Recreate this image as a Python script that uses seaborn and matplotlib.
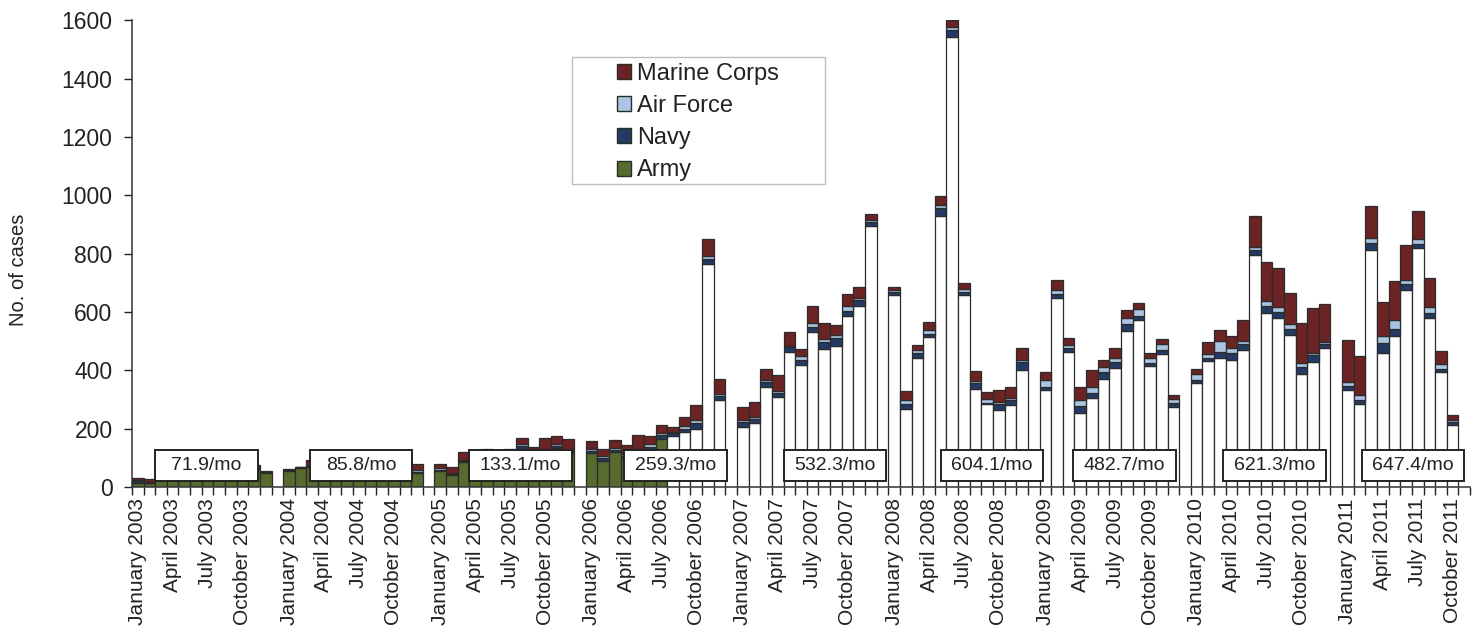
import matplotlib
matplotlib.use("Agg")
import matplotlib.pyplot as plt
from matplotlib.patches import Patch, Rectangle
import numpy as np
import seaborn as sns

sns.set_theme(style="ticks")
plt.rcParams["font.family"] = ["Liberation Sans", "DejaVu Sans"]

# ---------------------------------------------------------------------------
# Data: monthly cases by service, Jan 2003 - Oct 2011
# ---------------------------------------------------------------------------
years = [2003, 2004, 2005, 2006, 2007, 2008, 2009, 2010, 2011]
months_in_year = [12, 12, 12, 12, 12, 12, 12, 12, 10]
month_names = ["January", "February", "March", "April", "May", "June", "July",
               "August", "September", "October", "November", "December"]

army = [
    13, 13, 50, 74, 84, 80, 75, 80, 75, 77, 63, 48,            # 2003
    55, 66, 70, 68, 73, 78, 76, 73, 78, 73, 90, 47,            # 2004
    55, 40, 85, 97, 100, 95, 98, 130, 100, 115, 134, 115,      # 2005
    116, 90, 120, 98, 112, 129, 163, 175, 190, 198, 766, 297,  # 2006
    207, 218, 344, 307, 463, 417, 530, 474, 485, 587, 620, 894,    # 2007
    657, 268, 441, 515, 929, 1543, 657, 335, 284, 265, 282, 402,   # 2008
    334, 648, 463, 254, 305, 371, 407, 534, 571, 415, 455, 276,    # 2009
    355, 432, 441, 437, 471, 796, 596, 581, 521, 387, 428, 475,    # 2010
    332, 284, 812, 461, 517, 675, 818, 580, 393, 213,              # 2011
]
navy = [
    6, 2, 4, 4, 4, 4, 4, 4, 4, 4, 5, 2,
    2, 1, 4, 4, 4, 4, 4, 4, 4, 4, 8, 6,
    5, 4, 5, 6, 6, 5, 5, 10, 6, 7, 7, 5,
    9, 8, 8, 8, 9, 9, 14, 9, 10, 22, 17, 14,
    15, 14, 15, 17, 16, 18, 18, 24, 26, 18, 20, 14,
    12, 18, 19, 11, 27, 24, 12, 21, 5, 21, 16, 25,
    9, 15, 13, 23, 18, 22, 20, 26, 16, 11, 16, 12,
    11, 9, 21, 22, 18, 16, 24, 18, 21, 24, 26, 14,
    15, 14, 24, 32, 26, 22, 14, 15, 12, 10,
]
air_force = [
    6, 3, 3, 3, 3, 3, 3, 3, 3, 3, 4, 3,
    3, 2, 3, 3, 3, 3, 3, 3, 3, 3, 5, 5,
    5, 3, 3, 4, 4, 4, 4, 6, 4, 5, 7, 3,
    7, 7, 7, 7, 8, 8, 8, 6, 8, 11, 10, 7,
    8, 7, 8, 6, 4, 14, 13, 8, 11, 15, 7, 8,
    8, 14, 11, 11, 11, 10, 9, 7, 14, 7, 6, 10,
    23, 14, 10, 21, 19, 19, 17, 21, 22, 15, 18, 13,
    23, 16, 39, 16, 11, 11, 17, 18, 17, 15, 7, 9,
    12, 17, 18, 24, 31, 14, 19, 22, 16, 8,
]
marine_corps = [
    5, 8, 3, 4, 4, 3, 3, 3, 3, 3, 3, 3,
    2, 1, 15, 5, 5, 5, 5, 5, 5, 5, 22, 20,
    15, 20, 28, 20, 22, 21, 23, 23, 28, 40, 27, 41,
    25, 24, 26, 31, 49, 28, 26, 17, 31, 50, 57, 51,
    44, 51, 37, 55, 48, 23, 59, 55, 35, 40, 38, 20,
    9, 29, 15, 28, 32, 23, 21, 35, 23, 40, 40, 38,
    29, 34, 25, 46, 60, 23, 31, 27, 23, 17, 18, 14,
    15, 40, 37, 42, 74, 106, 135, 135, 105, 135, 154, 128,
    145, 135, 111, 118, 131, 120, 94, 100, 46, 15,
]
rate_labels = ["71.9/mo", "85.8/mo", "133.1/mo", "259.3/mo", "532.3/mo",
               "604.1/mo", "482.7/mo", "621.3/mo", "647.4/mo"]

# ---------------------------------------------------------------------------
# Style
# ---------------------------------------------------------------------------
C_MC = "#6b2324"
C_AF = "#a9c5e2"
C_NAVY = "#243a64"
C_ARMY = "#586b2f"
EDGE = "#2b2b2b"
SLOTS_PER_YEAR = 13            # 12 months + one empty slot between years
GREEN_UNTIL = (2006, 7)        # army drawn filled up to July 2006
BOX_OFFSET = [5.9, 6.2, 6.9, 7.2, 7.9, 8.4, 6.8, 6.7, 5.6]
BOX_W, BOX_Y0, BOX_H = 8.8, 22, 104

pos, army_fc, tick_pos, tick_lab = [], [], [], []
for i, (yr, n) in enumerate(zip(years, months_in_year)):
    for m in range(n):
        x = i * SLOTS_PER_YEAR + m
        pos.append(x)
        army_fc.append(C_ARMY if (yr, m + 1) <= GREEN_UNTIL else "white")
        if m % 3 == 0:
            tick_pos.append(x)
            tick_lab.append(f"{month_names[m]} {yr}")

pos = np.array(pos)
army = np.array(army)
navy = np.array(navy)
air_force = np.array(air_force)
marine_corps = np.array(marine_corps)

fig = plt.figure(figsize=(14.76, 6.33), dpi=100)
ax = fig.add_axes([0.0894, 0.2306, 0.9066, 0.7374])

kw = dict(width=1.0, edgecolor=EDGE, linewidth=0.9, zorder=2)
ax.bar(pos, army, color=army_fc, **kw)
ax.bar(pos, navy, bottom=army, color=C_NAVY, **kw)
ax.bar(pos, air_force, bottom=army + navy, color=C_AF, **kw)
ax.bar(pos, marine_corps, bottom=army + navy + air_force, color=C_MC, **kw)

# yearly average boxes
for i, lab in enumerate(rate_labels):
    cx = i * SLOTS_PER_YEAR + BOX_OFFSET[i]
    ax.add_patch(Rectangle((cx - BOX_W / 2, BOX_Y0), BOX_W, BOX_H,
                           facecolor="white", edgecolor="#222222",
                           linewidth=1.4, zorder=4))
    ax.text(cx, BOX_Y0 + BOX_H / 2, lab, ha="center", va="center",
            fontsize=14, color="#222222", zorder=5)

ax.set_xlim(-0.5, len(years) * SLOTS_PER_YEAR - 2.5)
ax.set_ylim(0, 1600)
ax.set_yticks(np.arange(0, 1601, 200))
ax.tick_params(axis="y", labelsize=16.5, length=6, width=1, pad=8,
               colors="#222222")

# tick marks between every slot, labels every quarter
ax.set_xticks(np.arange(-0.5, len(years) * SLOTS_PER_YEAR - 2, 1.0))
ax.set_xticklabels([])
ax.tick_params(axis="x", which="major", length=6, width=1, colors="#222222")
ax.set_xticks(tick_pos, tick_lab, minor=True)
ax.tick_params(axis="x", which="minor", length=0, pad=8, labelsize=15,
               labelrotation=90, labelcolor="#222222")

ax.set_ylabel("No. of cases", fontsize=14.5, color="#222222")
ax.yaxis.set_label_coords(-0.078, 0.465)
sns.despine(ax=ax)
for s in ("left", "bottom"):
    ax.spines[s].set_color("#333333")
    ax.spines[s].set_linewidth(1.1)

handles = [Patch(facecolor=C_MC, edgecolor=EDGE, label="Marine Corps"),
           Patch(facecolor=C_AF, edgecolor=EDGE, label="Air Force"),
           Patch(facecolor=C_NAVY, edgecolor=EDGE, label="Navy"),
           Patch(facecolor=C_ARMY, edgecolor=EDGE, label="Army")]
ax.legend(handles=handles, loc="upper left", frameon=False,
          bbox_to_anchor=(617 / 1476, 1 - 63 / 633),
          bbox_transform=fig.transFigure, borderaxespad=0, borderpad=0,
          fontsize=17, handlelength=0.6, handleheight=0.6,
          handletextpad=0.25, labelspacing=0.43, labelcolor="#222222")
fig.patches.append(Rectangle((572 / 1476, 1 - 184 / 633), 253 / 1476,
                             127 / 633, transform=fig.transFigure,
                             facecolor="none", edgecolor="#bdbdbd",
                             linewidth=1.0))

fig.savefig("out.png", dpi=100)
